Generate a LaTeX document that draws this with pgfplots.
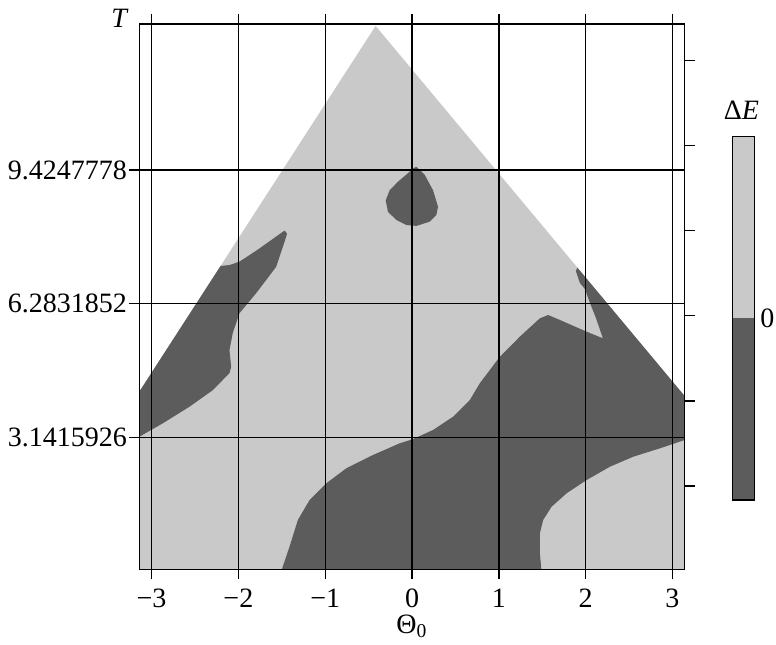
\documentclass[border=0pt]{standalone}
\usepackage{fontspec}
\setmainfont{Liberation Serif}
\usepackage{pgfplots}
\pgfplotsset{compat=1.18}
\definecolor{lightfill}{gray}{0.79}
\definecolor{darkfill}{gray}{0.36}
\begin{document}
\fontsize{14}{16}\selectfont
\begin{tikzpicture}
\path[use as bounding box] (-69.65pt,-37.35pt) rectangle (318.35pt,284.65pt);
\begin{axis}[
  name=main,
  at={(0pt,0pt)}, anchor=south west,
  width=272.7pt, height=272.65pt, scale only axis,
  xmin=-3.1416, xmax=3.1416, ymin=0.04, ymax=12.855,
  xtick={-3,-2,-1,0,1,2,3},
  xticklabels={−3,−2,−1,0,1,2,3},
  ytick={3.1415926,6.2831852,9.4247778},
  yticklabels={3.1415926,6.2831852,9.4247778},
  ytick pos=left,
  tick align=outside, major tick length=5pt,
  grid=major, grid style={black, line width=0.7pt},
  axis line style={black, line width=0.6pt},
  every tick/.style={black, line width=0.7pt},
  axis on top,
  /pgf/number format/assume math mode=true,
  tick label style={font=\fontsize{14}{16}\selectfont},
  yticklabel style={inner xsep=1pt},
  xlabel={Θ\textsubscript{0}},
  xlabel style={at={(rel axis cs:0.5,0)}, anchor=center, yshift=-28.5pt, font=\fontsize{14}{16}\selectfont},
]
% domain (light)
\addplot[fill=lightfill, draw=none] coordinates {
 (-3.1416,0) (3.1416,0) (3.1416,4.11) (-0.419,12.81) (-3.1416,4.214)
} -- cycle;
% left elongated dark region
\addplot[fill=darkfill, draw=none] coordinates {
 (-3.1416,3.156) (-3.1416,4.214) (-2.205,7.17) (-2.103,7.19) (-1.988,7.27)
 (-1.80,7.52) (-1.62,7.78) (-1.468,8.00) (-1.44,7.93) (-1.449,7.86) (-1.564,7.15)
 (-1.795,6.53) (-1.987,6.06) (-2.065,5.59) (-2.103,5.19) (-2.083,4.80)
 (-2.103,4.65) (-2.295,4.25) (-2.564,3.86) (-2.872,3.47) (-3.103,3.20)
} -- cycle;
% small blob
\addplot[fill=darkfill, draw=none] coordinates {
 (0.051,9.50) (0.146,9.31) (0.242,8.95) (0.300,8.56) (0.281,8.37) (0.204,8.21)
 (0.051,8.11) (-0.065,8.13) (-0.180,8.25) (-0.277,8.44) (-0.303,8.71)
 (-0.257,8.95) (-0.161,9.15) (-0.046,9.35) (0.012,9.46)
} -- cycle;
% big lower dark region
\addplot[fill=darkfill, draw=none] coordinates {
 (-1.506,0) (-1.411,0.571) (-1.315,1.199) (-1.180,1.669) (-0.987,2.061)
 (-0.757,2.414) (-0.450,2.726) (-0.142,3.001) (0.005,3.095) (0.242,3.314)
 (0.473,3.626) (0.666,4.019) (0.781,4.411) (1.012,5.036) (1.242,5.507)
 (1.473,5.939) (1.569,6.016) (1.704,5.899) (2.012,5.624) (2.199,5.469)
 (2.119,5.946) (2.050,6.299) (1.992,6.627) (1.934,6.769) (1.888,7.051)
 (1.905,7.13) (3.1416,4.11) (3.1416,3.079) (2.857,2.884) (2.549,2.686)
 (2.280,2.451) (2.012,2.139) (1.781,1.826) (1.608,1.511) (1.511,1.199)
 (1.473,0.886) (1.473,0.416) (1.492,0)
} -- cycle;
\end{axis}
% right-side ticks
\begin{axis}[
  at={(0pt,0pt)}, anchor=south west,
  width=272.7pt, height=272.65pt, scale only axis,
  xmin=-3.1416, xmax=3.1416, ymin=0.04, ymax=12.855,
  hide x axis, axis y line*=right,
  ytick={2,4,6,8,10,12}, yticklabels={},
  tick align=outside, major tick length=5pt,
  axis line style={black, line width=0.6pt},
  every tick/.style={black, line width=0.7pt},
]
\end{axis}
% colour bar
\begin{axis}[
  name=cb,
  at={(296.5pt,34.65pt)}, anchor=south west,
  width=11.2pt, height=181.65pt, scale only axis,
  xmin=0, xmax=1, ymin=-1, ymax=1,
  xtick=\empty, ytick={0}, yticklabels={0},
  ytick pos=right, yticklabel pos=right,
  major tick length=0pt,
  axis line style={black, line width=0.6pt},
  axis on top,
  /pgf/number format/assume math mode=true,
  tick label style={font=\fontsize{14}{16}\selectfont},
  yticklabel style={xshift=-2pt},
]
\addplot[fill=lightfill, draw=none] coordinates {(0,0) (1,0) (1,1) (0,1)} -- cycle;
\addplot[fill=darkfill, draw=none] coordinates {(0,-1) (1,-1) (1,0) (0,0)} -- cycle;
\end{axis}
\node[anchor=center, yshift=13.3pt, xshift=-1pt] at (cb.north) {Δ\textit{E}};
\node[anchor=center, xshift=-9.65pt, yshift=2.6pt] at (main.north west) {\textit{T}};
\end{tikzpicture}
\end{document}
